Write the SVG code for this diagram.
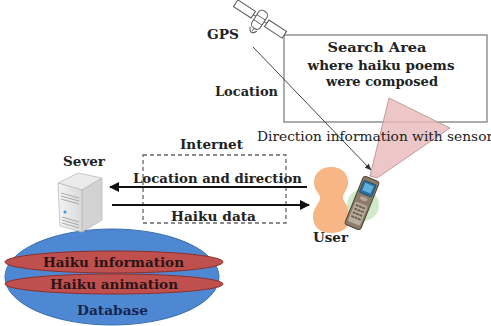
<svg xmlns="http://www.w3.org/2000/svg" width="491" height="326" viewBox="0 0 491 326">
  <defs>
    <style>
      .lbl { font-family: "DejaVu Serif", "Liberation Serif", serif; font-weight: bold; font-size: 13px; fill: #222; }
      .note { font-family: "DejaVu Serif", "Liberation Serif", serif; font-size: 13px; fill: #222; }
      .conn { stroke: #111; stroke-width: 2; fill: none; }
      .gpsline { stroke: #444; stroke-width: 1; fill: none; }
      .sat { fill: #fff; stroke: #555; stroke-width: 1; }
    </style>
    <marker id="head" viewBox="0 0 10 10" refX="9" refY="5" markerWidth="5" markerHeight="5" orient="auto" markerUnits="strokeWidth">
      <path d="M0,0 L10,5 L0,10 Z" fill="#111"/>
    </marker>
    <marker id="headThin" viewBox="0 0 10 10" refX="9" refY="5" markerWidth="7" markerHeight="7" orient="auto" markerUnits="strokeWidth">
      <path d="M0,1 L10,5 L0,9 Z" fill="#333"/>
    </marker>
    <linearGradient id="srvFront" x1="0" y1="0" x2="1" y2="0">
      <stop offset="0" stop-color="#f4f4f4"/>
      <stop offset="1" stop-color="#d9d9d9"/>
    </linearGradient>
  </defs>

  <rect width="491" height="326" fill="#fff"/>

  <!-- search area box -->
  <g id="search-area">
    <rect x="284" y="35" width="203" height="87" fill="#fff" stroke="#777" stroke-width="1.2"/>
    <text class="lbl" x="377" y="52" text-anchor="middle" textLength="99" lengthAdjust="spacingAndGlyphs">Search Area</text>
    <text class="lbl" x="381" y="70" text-anchor="middle" textLength="147" lengthAdjust="spacingAndGlyphs">where haiku poems</text>
    <text class="lbl" x="382" y="86" text-anchor="middle" textLength="112" lengthAdjust="spacingAndGlyphs">were composed</text>
  </g>

  <!-- sensor direction cone -->
  <g id="direction-cone">
    <polygon points="389,98 450,128 377,178 370,176" fill="#e9b9b9" fill-opacity="0.8" stroke="#b88a8a" stroke-width="0.8"/>
  </g>

  <!-- GPS satellite -->
  <g id="gps">
    <g transform="translate(260,19) rotate(33)">
      <line x1="-8" y1="0" x2="8" y2="0" stroke="#555" stroke-width="1"/>
      <rect class="sat" x="-29" y="-4" width="21" height="8"/>
      <rect class="sat" x="8" y="-4" width="21" height="8"/>
      <rect class="sat" x="-5" y="-9" width="10" height="20" rx="4"/>
      <line x1="-5" y1="-2" x2="5" y2="-2" stroke="#555" stroke-width="0.8"/>
      <line x1="-5" y1="4" x2="5" y2="4" stroke="#555" stroke-width="0.8"/>
      <path class="sat" d="M-4,12 Q0,20 4,12"/>
      <line x1="0" y1="11" x2="0" y2="15" stroke="#555" stroke-width="0.8"/>
    </g>
    <text class="lbl" x="207" y="39" textLength="32" lengthAdjust="spacingAndGlyphs">GPS</text>
  </g>

  <!-- internet region -->
  <g id="internet">
    <rect x="143" y="155" width="143" height="68" fill="none" stroke="#666" stroke-width="1.3" stroke-dasharray="4,3"/>
    <text class="lbl" x="180" y="149" textLength="63" lengthAdjust="spacingAndGlyphs">Internet</text>
  </g>

  <!-- database -->
  <g id="database">
    <ellipse cx="112" cy="277" rx="107" ry="48" fill="#4f88d2" stroke="#3a6db0" stroke-width="1"/>
    <ellipse cx="114" cy="262" rx="109" ry="11" fill="#c0504d" stroke="#8c2f2c" stroke-width="1"/>
    <ellipse cx="114" cy="284" rx="109" ry="10" fill="#c0504d" stroke="#8c2f2c" stroke-width="1"/>
    <text class="lbl" x="43" y="267" textLength="141" lengthAdjust="spacingAndGlyphs" style="fill:#2b1418">Haiku information</text>
    <text class="lbl" x="50" y="289" textLength="128" lengthAdjust="spacingAndGlyphs" style="fill:#2b1418">Haiku animation</text>
    <text class="lbl" x="77" y="315" textLength="71" lengthAdjust="spacingAndGlyphs" style="fill:#16254f">Database</text>
  </g>

  <!-- server tower -->
  <g id="server">
    <polygon points="58,183 78,173 102,178 82,190" fill="#ebebeb" stroke="#bbb" stroke-width="0.8"/>
    <polygon points="82,190 102,178 102,220 82,232" fill="#d2d2d2" stroke="#bbb" stroke-width="0.8"/>
    <polygon points="58,183 82,190 82,232 60,226" fill="url(#srvFront)" stroke="#bbb" stroke-width="0.8"/>
    <g stroke="#9a9a9a" stroke-width="0.8">
      <line x1="61" y1="193" x2="79" y2="198"/>
      <line x1="61" y1="196" x2="79" y2="201"/>
      <line x1="61" y1="199" x2="79" y2="204"/>
      <line x1="62" y1="217" x2="79" y2="222"/>
      <line x1="62" y1="220" x2="79" y2="225"/>
      <line x1="62" y1="223" x2="79" y2="228"/>
    </g>
    <circle cx="65" cy="212" r="1.5" fill="#3a9ad8"/>
    <text class="lbl" x="63" y="166" textLength="42" lengthAdjust="spacingAndGlyphs">Sever</text>
  </g>

  <!-- user with handset -->
  <g id="user">
    <path d="M331,167 C342,167 349,174 348,184 C347,191 342,194 343,199 C345,204 351,208 350,218 C349,228 342,233 331,233 C320,233 313,227 313,217 C313,208 319,204 320,199 C321,194 314,191 314,183 C314,173 321,167 331,167 Z" fill="#f8b585"/>
    <circle cx="363" cy="205" r="16" fill="#c8e6bf" fill-opacity="0.85"/>
    <g transform="translate(362,203) rotate(22)">
      <rect x="-8.5" y="-26" width="17" height="52" rx="3" fill="#8b7b6a" stroke="#4e4032" stroke-width="1"/>
      <rect x="-6.5" y="-22" width="13" height="13" rx="1" fill="#2a6f9e" stroke="#1a3c58" stroke-width="0.6"/>
      <rect x="-4.5" y="-20" width="9" height="8" fill="#5fb0d8"/>
      <ellipse cx="0" cy="-4.5" rx="4" ry="2" fill="#b5a795"/>
      <rect x="-6.5" y="1" width="13" height="21" rx="1.5" fill="#b8ad9f"/>
      <g fill="#6e604f">
        <rect x="-5" y="3" width="3" height="2"/><rect x="-1.5" y="3" width="3" height="2"/><rect x="2" y="3" width="3" height="2"/>
        <rect x="-5" y="7" width="3" height="2"/><rect x="-1.5" y="7" width="3" height="2"/><rect x="2" y="7" width="3" height="2"/>
        <rect x="-5" y="11" width="3" height="2"/><rect x="-1.5" y="11" width="3" height="2"/><rect x="2" y="11" width="3" height="2"/>
        <rect x="-5" y="15" width="3" height="2"/><rect x="-1.5" y="15" width="3" height="2"/><rect x="2" y="15" width="3" height="2"/>
      </g>
    </g>
    <text class="lbl" x="313" y="242" textLength="35" lengthAdjust="spacingAndGlyphs">User</text>
  </g>

  <!-- connectors -->
  <g id="connectors">
    <line class="gpsline" x1="253" y1="47" x2="371" y2="170" marker-end="url(#headThin)"/>
    <line class="conn" x1="307" y1="187" x2="110" y2="187" marker-end="url(#head)"/>
    <line class="conn" x1="112" y1="205" x2="309" y2="205" marker-end="url(#head)"/>
  </g>

  <!-- connector labels -->
  <g id="labels">
    <text class="lbl" x="215" y="96" textLength="63" lengthAdjust="spacingAndGlyphs">Location</text>
    <text class="note" x="257" y="141" textLength="236" lengthAdjust="spacingAndGlyphs">Direction information with sensor</text>
    <text class="lbl" x="133" y="183" textLength="169" lengthAdjust="spacingAndGlyphs">Location and direction</text>
    <text class="lbl" x="171" y="221" textLength="85" lengthAdjust="spacingAndGlyphs">Haiku data</text>
  </g>
</svg>
